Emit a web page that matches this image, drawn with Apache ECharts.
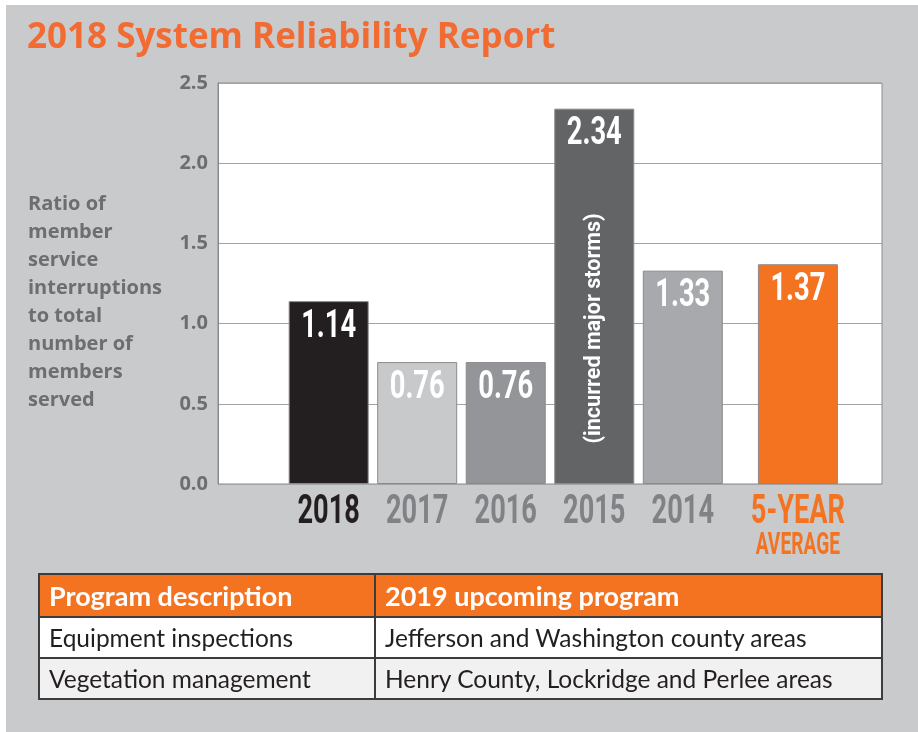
<!DOCTYPE html>
<html>
<head>
<meta charset="utf-8">
<script src="https://cdn.jsdelivr.net/npm/echarts@6/dist/echarts.min.js"></script>
<style>
  html, body { margin: 0; padding: 0; background: #fff; }
  #wrap { position: absolute; left: 6px; top: 5px; width: 912px; height: 727px; background: #c9cacc; }
  #chart { position: absolute; left: 0; top: 0; width: 918px; height: 732px; }
  table.prog {
    position: absolute; left: 38px; top: 573px; width: 845px;
    border-collapse: collapse; font-family: Lato, "Open Sans", sans-serif; font-size: 24.5px;
  }
  table.prog td, table.prog th { border: 2px solid #3c3c3c; padding: 0 9px; text-align: left; }
  table.prog th { background: #f37321; color: #fff; font-weight: 700; height: 41px; font-size: 27px; }
  table.prog td { height: 39px; color: #231f20; }
  table.prog tr.r1 td { background: #fff; }
  table.prog tr.r2 td { background: #f1f1f1; }
</style>
</head>
<body>
<div id="wrap"></div>
<div id="chart"></div>
<table class="prog">
  <tr><th style="width:316px">Program description</th><th>2019 upcoming program</th></tr>
  <tr class="r1"><td>Equipment inspections</td><td>Jefferson and Washington county areas</td></tr>
  <tr class="r2"><td>Vegetation management</td><td>Henry County, Lockridge and Perlee areas</td></tr>
</table>
<script>
// data
const categories = ['2018', '2017', '2016', '2015', '2014', '5-YEAR\nAVERAGE']
const values = [1.14, 0.76, 0.76, 2.34, 1.33, 1.37]
// slot position of each bar along the hidden x scale (the average sits apart)
const slots = [1.25, 2.25, 3.25, 4.25, 5.25, 6.55]
const barColors = ['#231f20', '#c8c9cb', '#939598', '#636466', '#a7a9ac', '#f37321']
const labelColors = ['#231f20', '#808285', '#808285', '#808285', '#808285', '#f37321']
const yTicks = [0, 0.5, 1.0, 1.5, 2.0, 2.5]
const note = '(incurred major storms)'
const noteAt = [4.25, 0.97]

let chart = echarts.init(document.getElementById('chart'))

let yName = {
  type: 'text', left: 28, top: 190,
  style: {
    text: 'Ratio of\nmember\nservice\ninterruptions\nto total\nnumber of\nmembers\nserved',
    fill: '#6d6e71', font: 'bold 20px "Open Sans"', lineHeight: 28
  }
}

let option = {
  backgroundColor: 'transparent',
  title: {
    text: '2018 System Reliability Report',
    left: 22, top: 16,
    textStyle: { color: '#f26b32', fontSize: 35, fontWeight: 'bold', fontFamily: 'Open Sans' }
  },
  graphic: [yName],
  grid: {
    left: 218, right: 36, top: 83, bottom: 248,
    show: true, backgroundColor: '#fff', borderColor: '#8a8a8a', borderWidth: 1
  },
  xAxis: { type: 'value', min: 0, max: 7.5, show: false },
  yAxis: {
    type: 'value', min: yTicks[0], max: yTicks[yTicks.length - 1], interval: 0.5,
    axisLine: { show: true, lineStyle: { color: '#8a8a8a' } },
    axisTick: { show: false },
    axisLabel: {
      formatter: v => v.toFixed(1), color: '#6d6e71', fontSize: 20, fontWeight: 'bold',
      fontFamily: 'Open Sans', margin: 10
    },
    splitLine: { lineStyle: { color: '#a3a3a3', width: 1 } }
  },
  series: [
    {
      type: 'bar',
      barWidth: 80,
      data: values.map((v, i) => ({
        value: [slots[i], v],
        itemStyle: { color: barColors[i], borderColor: '#8a8a8a', borderWidth: 1 }
      }))
    }
  ]
}

chart.setOption(option)

// condensed lettering: place text via the chart's own scales, squeeze horizontally
let extra = [yName]
values.forEach((v, i) => {
  let p = chart.convertToPixel({ gridIndex: 0 }, [slots[i], v])
  extra.push({
    type: 'text', x: p[0], y: p[1] + 7, scaleX: 0.72, z: 10,
    style: { text: v.toFixed(2), fill: '#fff', font: 'bold 38px Roboto', align: 'center', verticalAlign: 'top' }
  })
})
categories.forEach((c, i) => {
  let p = chart.convertToPixel({ gridIndex: 0 }, [slots[i], 0])
  let parts = c.split('\n')
  extra.push({
    type: 'text', x: p[0], y: p[1] + 9, scaleX: 0.68, z: 10,
    style: { text: parts[0], fill: labelColors[i], font: 'bold 40px Roboto', align: 'center', verticalAlign: 'top' }
  })
  if (parts[1]) {
    extra.push({
      type: 'text', x: p[0], y: p[1] + 46, scaleX: 0.6, z: 10,
      style: { text: parts[1], fill: labelColors[i], font: 'bold 32px Roboto', align: 'center', verticalAlign: 'top' }
    })
  }
})
let np = chart.convertToPixel({ gridIndex: 0 }, noteAt)
extra.push({
  type: 'text', x: np[0], y: np[1], rotation: Math.PI / 2, scaleX: 0.98, z: 10,
  style: { text: note, fill: '#fff', font: 'bold 22px Roboto', align: 'center', verticalAlign: 'middle' }
})
chart.setOption({ graphic: extra }, { replaceMerge: ['graphic'] })
</script>
</body>
</html>
